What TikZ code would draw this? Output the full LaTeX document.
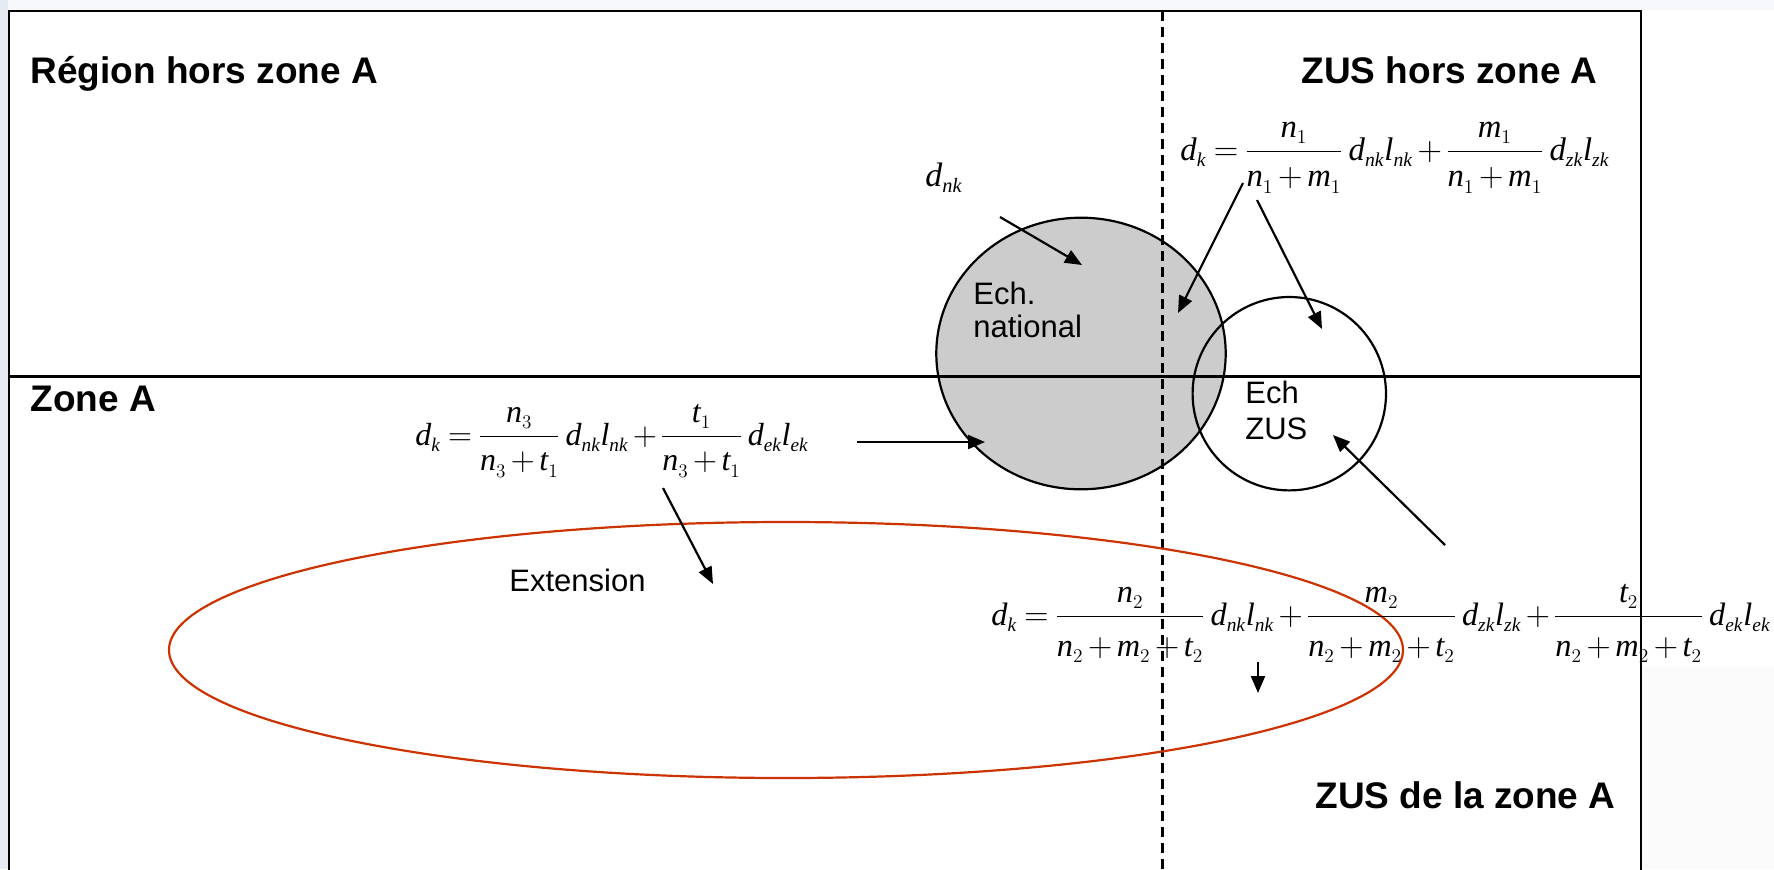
\documentclass[tikz,border=0pt]{standalone}
\usepackage{fontspec}
\setmainfont{Liberation Serif}
\setsansfont{Liberation Sans}
\usepackage{graphicx}
\usetikzlibrary{arrows.meta,shapes.geometric}
\definecolor{stripblue}{HTML}{E6EBF3}
\definecolor{topband}{HTML}{F7F8FB}
\definecolor{natgray}{HTML}{CCCCCC}
\definecolor{extred}{HTML}{CC3300}
\definecolor{faintgr}{HTML}{FAFAFA}
\DeclareMathSizes{20}{20}{12}{9}
\newcommand\fD[1]{\mathit{d}_{\mathit{#1}}}
\newcommand\fL[1]{\mathit{l}_{\mathit{#1}}}
\newcommand\fN[1]{\mathit{n}_{#1}}
\newcommand\fM[1]{\mathit{m}_{#1}}
\newcommand\fT[1]{\mathit{t}_{#1}}
\newcommand\fP{\mathbin{\mathrm{+}}}
\newcommand\fE{\mathrel{\mathrm{=}}}
\newcommand\fF[3]{\frac{#1}{\rule{0pt}{#3}#2}\mskip3.5mu}
\newcommand\fSet{\fontdimen16\textfont2=4pt\medmuskip=2.5mu\thickmuskip=4mu\nulldelimiterspace=0.5pt}
\tikzset{
  lbl/.style={font=\sffamily\bfseries\fontsize{18.5}{22}\selectfont, inner sep=0, anchor=base west},
  txt/.style={font=\sffamily\fontsize{15.5}{18}\selectfont, inner sep=0, anchor=base west},
  frm/.style={font=\fontsize{20}{24}\selectfont, inner sep=0, anchor=base west},
  arr/.style={-{Triangle[length=8.5pt,width=7pt]}, line width=1.1pt},
  frame/.style={line width=1.3pt},
  outline/.style={draw, line width=1.1pt, inner sep=0},
}
\begin{document}
\begin{tikzpicture}[x=0.5pt,y=-0.5pt]
\useasboundingbox (0,0) rectangle (1774,869);
\clip (0,0) rectangle (1774,869);
\fill[white] (0,0) rectangle (1774,869);
\fill[topband] (0,0) rectangle (1774,10);
\fill[stripblue] (0,0) rectangle (8,869);
\fill[faintgr] (1642,667) rectangle (1774,869);

% Ech. national (grey)
\node[outline, ellipse, fill=natgray, minimum width=144.7pt, minimum height=135.8pt] (nat) at (1081,353.5) {};

% frame and dividing lines
\draw[frame] (9,880) -- (9,11) -- (1641,11) -- (1641,880);
\draw[frame] (9,376.5) -- (1641,376.5);
\draw[line width=1.5pt, dash pattern=on 5pt off 3pt] (1162,11) -- (1162,869);

% Ech ZUS circle and extension ellipse
\node[outline, circle, minimum size=96.7pt] (zus) at (1289.3,393.7) {};
\node[outline, ellipse, draw=extred, minimum width=617pt, minimum height=128pt] (ext) at (786,650) {};

% labels
\node[lbl] (region) at (30,83) {Région hors zone A};
\node[lbl, anchor=base east] (zushors) at (1598,83) {ZUS hors zone A};
\node[lbl] (zonea) at (30,411) {Zone A};
\node[lbl] (zusde) at (1315,808) {ZUS de la zone A};
\node[txt] (ech1) at (973,304) {Ech.};
\node[txt] (ech2) at (973,337) {national};
\node[txt] (zus1) at (1245,403) {Ech};
\node[txt] (zus2) at (1245,439) {ZUS};
\node[txt] (extlbl) at (509,591) {Extension};

% formulas
\node[frm] (dnk) at (925,186) {\resizebox{18.5pt}{!}{$\fSet\fD{nk}$}};
\node[frm] (f1) at (1180,160) {\resizebox{214.5pt}{!}{$\fSet\displaystyle \fD{k}\fE\fF{\fN1}{\fN1\fP\fM1}{1.0em}\fD{nk}\fL{nk}\fP\fF{\fM1}{\fN1\fP\fM1}{1.0em}\fD{zk}\fL{zk}$}};
\node[frm] (f3) at (415,445) {\resizebox{196.5pt}{!}{$\fSet\displaystyle \fD{k}\fE\fF{\fN3}{\fN3\fP\fT1}{1.0em}\fD{nk}\fL{nk}\fP\fF{\fT1}{\fN3\fP\fT1}{1.0em}\fD{ek}\fL{ek}$}};
\node[frm] (f2) at (991,625) {\resizebox{389.5pt}{!}{$\fSet\displaystyle \fD{k}\fE\fF{\fN2}{\fN2\fP\fM2\fP\fT2}{1.15em}\fD{nk}\fL{nk}\fP\fF{\fM2}{\fN2\fP\fM2\fP\fT2}{1.15em}\fD{zk}\fL{zk}\fP\fF{\fT2}{\fN2\fP\fM2\fP\fT2}{1.15em}\fD{ek}\fL{ek}$}};

% arrows
\coordinate (a1s) at (1000,217);  \coordinate (a1e) at (1082,265);
\coordinate (a2s) at (1243,183);  \coordinate (a2e) at (1178,313);
\coordinate (a3s) at (1257,200);  \coordinate (a3e) at (1322,329);
\coordinate (a4s) at (857,442);   \coordinate (a4e) at (985,442);
\coordinate (a5s) at (663,488);   \coordinate (a5e) at (713,584);
\coordinate (a6s) at (1445,545);  \coordinate (a6e) at (1333,435);
\coordinate (a7s) at (1258,662);  \coordinate (a7e) at (1258,693);
\draw[arr] (a1s) -- (a1e);
\draw[arr] (a2s) -- (a2e);
\draw[arr] (a3s) -- (a3e);
\draw[arr] (a4s) -- (a4e);
\draw[arr] (a5s) -- (a5e);
\draw[arr] (a6s) -- (a6e);
\draw[arr] (a7s) -- (a7e);
\end{tikzpicture}
\end{document}
